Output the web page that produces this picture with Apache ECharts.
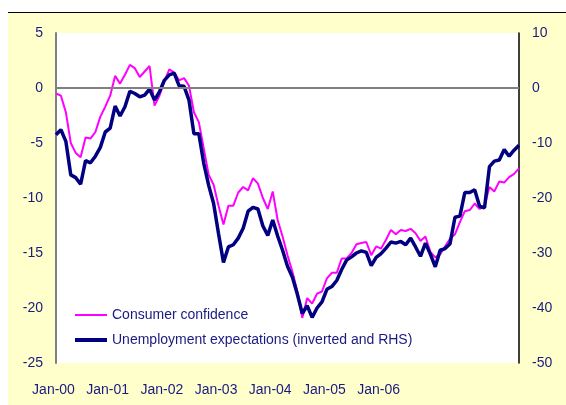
<!DOCTYPE html>
<html>
<head>
<meta charset="utf-8">
<script src="https://cdn.jsdelivr.net/npm/echarts@6/dist/echarts.min.js"></script>
<style>
  html, body { margin: 0; padding: 0; background: #fff; }
  #chart { width: 566px; height: 405px; }
</style>
</head>
<body>
<div id="chart"></div>
<script>
// axis labels (one every 11 points, as on the original)
const tickLabels = ['Jan-00', 'Jan-01', 'Jan-02', 'Jan-03', 'Jan-04', 'Jan-05', 'Jan-06'];
const labelStep = 11;

// consumer confidence, left axis
const consumerConfidence = [
  -0.5, -0.7, -2.2, -5.0, -5.9, -6.3, -4.5, -4.6, -4.0, -2.6,
  -1.7, -0.7, 1.1, 0.4, 1.2, 2.1, 1.8, 1.0, 1.5, 2.0,
  -1.6, -0.7, 0.6, 1.7, 1.4, 0.7, 0.9, 0.2, -2.2, -3.1,
  -5.5, -7.9, -8.8, -10.7, -12.4, -10.7, -10.7, -9.5, -9.0, -9.3,
  -8.2, -8.7, -10.0, -11.0, -9.4, -12.0, -13.5, -15.2, -16.7, -18.5,
  -20.9, -19.1, -19.6, -18.7, -18.5, -17.3, -16.8, -16.8, -15.5, -15.5,
  -15.0, -14.2, -14.1, -14.0, -15.2, -14.4, -14.6, -13.8, -12.9, -13.3,
  -12.9, -13.0, -12.8, -13.2, -13.9, -13.5, -14.9, -15.4, -15.1, -14.4,
  -13.7, -13.3, -12.2, -11.2, -11.1, -10.5, -11.0, -10.7, -9.0, -9.4,
  -8.5, -8.6, -8.1, -7.8, -7.3
];

// unemployment expectations (inverted), right axis
const unemploymentExpectations = [
  -8.5, -7.6, -9.7, -15.8, -16.3, -17.5, -13.2, -13.6, -12.4, -10.8,
  -8.0, -7.3, -3.3, -5.1, -3.4, -0.6, -1.0, -1.6, -1.3, -0.2,
  -2.2, -0.7, 1.4, 2.4, 2.7, 0.4, 0.3, -2.2, -8.3, -8.3,
  -13.7, -17.7, -21.0, -26.5, -31.7, -28.9, -28.5, -27.3, -25.5, -22.4,
  -21.7, -22.0, -25.1, -26.8, -24.0, -26.9, -29.5, -32.4, -34.4, -37.5,
  -41.0, -39.6, -41.7, -40.0, -38.9, -36.6, -36.1, -35.0, -33.0, -31.3,
  -30.7, -30.0, -29.6, -29.9, -32.3, -30.8, -30.1, -29.1, -28.0, -28.2,
  -27.9, -28.5, -27.3, -28.9, -30.6, -28.2, -30.2, -32.5, -29.5, -29.2,
  -28.3, -23.5, -23.3, -19.0, -19.0, -18.5, -21.5, -21.8, -14.3, -13.3,
  -13.1, -11.2, -12.4, -11.3, -10.4
];

const categories = consumerConfidence.map((v, i) => {
  const k = i / labelStep;
  return (i % labelStep === 0 && k < tickLabels.length) ? tickLabels[k] : '';
});

const textColor = '#1a1a80';
const font = 'Liberation Sans, Arial, sans-serif';
const legendText = { color: textColor, fontSize: 14, fontFamily: font };

const chart = echarts.init(document.getElementById('chart'));
chart.setOption({
  animation: false,
  backgroundColor: '#fff',
  textStyle: { fontFamily: font },
  graphic: [
    // yellow frame with a black top edge
    { type: 'rect', z: -10, shape: { x: 8, y: 12, width: 560, height: 395 },
      style: { fill: '#FFFFCC' } },
    { type: 'line', z: -9, shape: { x1: 8, y1: 12.5, x2: 566, y2: 12.5 },
      style: { stroke: '#000', lineWidth: 1 } }
  ],
  grid: {
    left: 56, right: 47, top: 33, bottom: 42,
    show: true, backgroundColor: '#fff', borderWidth: 0
  },
  // one legend per line so each key is a plain bar of the line's thickness
  legend: [
    {
      left: 75, top: 308, padding: 0,
      icon: 'rect', itemWidth: 32, itemHeight: 2,
      textStyle: legendText,
      data: ['Consumer confidence']
    },
    {
      left: 75, top: 333, padding: 0,
      icon: 'rect', itemWidth: 32, itemHeight: 4,
      textStyle: legendText,
      data: ['Unemployment expectations (inverted and RHS)']
    }
  ],
  xAxis: {
    type: 'category',
    data: categories,
    boundaryGap: false,
    axisLine: { show: false },
    axisTick: { show: false },
    splitLine: { show: false },
    axisLabel: {
      interval: (index, value) => value !== '',
      color: textColor, fontSize: 14, fontFamily: font,
      margin: 20, padding: [0, 5, 0, 0]
    }
  },
  yAxis: [
    {
      type: 'value', min: -25, max: 5, interval: 5,
      axisLine: { show: true, lineStyle: { color: '#808080', width: 2 } },
      axisTick: { show: false },
      splitLine: { show: false },
      axisLabel: { color: textColor, fontSize: 14, fontFamily: font, margin: 13 }
    },
    {
      type: 'value', min: -50, max: 10, interval: 10, position: 'right',
      axisLine: { show: true, lineStyle: { color: '#000', width: 1.5 } },
      axisTick: { show: false },
      splitLine: { show: false },
      axisLabel: { color: textColor, fontSize: 14, fontFamily: font, margin: 13 }
    }
  ],
  series: [
    {
      name: 'Consumer confidence',
      type: 'line',
      data: consumerConfidence,
      yAxisIndex: 0,
      symbol: 'none',
      lineStyle: { color: '#FF00FF', width: 2 },
      itemStyle: { color: '#FF00FF' },
      markLine: {
        silent: true, symbol: 'none', label: { show: false },
        lineStyle: { color: '#808080', width: 2, type: 'solid' },
        data: [{ yAxis: 0 }]
      }
    },
    {
      name: 'Unemployment expectations (inverted and RHS)',
      type: 'line',
      data: unemploymentExpectations,
      yAxisIndex: 1,
      symbol: 'none',
      lineStyle: { color: '#000080', width: 3.5 },
      itemStyle: { color: '#000080' }
    }
  ]
});
</script>
</body>
</html>
